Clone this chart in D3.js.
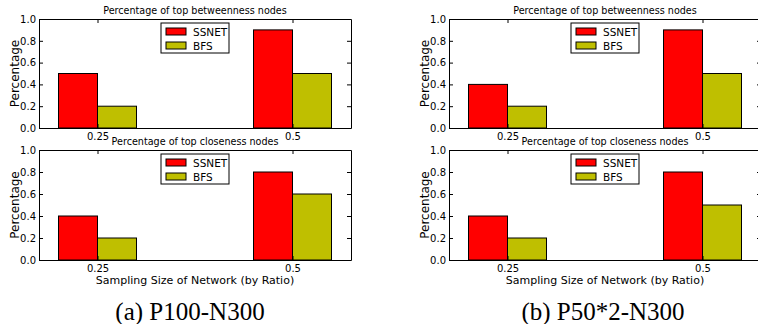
<!DOCTYPE html>
<html>
<head>
<meta charset="utf-8">
<script src="https://cdn.jsdelivr.net/npm/d3@7"></script>
<style>
  html, body { margin: 0; padding: 0; background: #fff; }
  svg { display: block; }
  text { font-family: "DejaVu Sans", sans-serif; fill: #000; }
</style>
</head>
<body>
<svg id="chart" width="758" height="324"></svg>
<script>
// data
const ratios = ["0.25", "0.5"];
const seriesNames = ["SSNET", "BFS"];
const seriesColors = ["#ff0000", "#bfbf00"];
const yTicks = [0, 0.2, 0.4, 0.6, 0.8, 1.0];

const aBetweenSSNET = [0.5, 0.9];
const aBetweenBFS = [0.2, 0.5];
const aCloseSSNET = [0.4, 0.8];
const aCloseBFS = [0.2, 0.6];

const bBetweenSSNET = [0.4, 0.9];
const bBetweenBFS = [0.2, 0.5];
const bCloseSSNET = [0.4, 0.8];
const bCloseBFS = [0.2, 0.5];

const captions = ["(a) P100-N300", "(b) P50*2-N300"];

const svg = d3.select("#chart");

const plotW = 312;
const barW = 0.2;

function drawAxes(left, top, height, title, ssnet, bfs, showXLabel) {
  const g = svg.append("g").attr("transform", "translate(" + left + "," + top + ")");

  const x = d3.scaleLinear().domain([-0.3, 1.3]).range([0, plotW]);
  const y = d3.scaleLinear().domain([0, 1]).range([height, 0]);

  // bars
  const groups = [ssnet, bfs];
  groups.forEach((vals, s) => {
    g.selectAll(".bar" + s)
      .data(vals)
      .enter()
      .append("rect")
      .attr("x", (d, i) => x(i - barW + s * barW))
      .attr("y", d => y(d))
      .attr("width", x(barW) - x(0))
      .attr("height", d => height - y(d))
      .attr("fill", seriesColors[s])
      .attr("stroke", "#000")
      .attr("stroke-width", 1);
  });

  // axes (ticks point inwards)
  const fmt = d3.format(".1f");
  const left_ = g.append("g")
    .call(d3.axisLeft(y).tickValues(yTicks).tickFormat(fmt).tickSizeInner(-4).tickSizeOuter(0).tickPadding(3));
  const right_ = g.append("g").attr("transform", "translate(" + plotW + ",0)")
    .call(d3.axisRight(y).tickValues(yTicks).tickFormat("").tickSizeInner(-4).tickSizeOuter(0));
  const bottom_ = g.append("g").attr("transform", "translate(0," + height + ")")
    .call(d3.axisBottom(x).tickValues([0, 1]).tickFormat(i => ratios[i]).tickSizeInner(-4).tickSizeOuter(0).tickPadding(5));
  const top_ = g.append("g")
    .call(d3.axisTop(x).tickValues([0, 1]).tickFormat("").tickSizeInner(-4).tickSizeOuter(0));

  [left_, right_, bottom_, top_].forEach(a => {
    a.select(".domain").attr("stroke", "#000");
    a.selectAll(".tick line").attr("stroke", "#000");
    a.selectAll("text").style("font-family", "DejaVu Sans").style("font-size", "10px").attr("fill", "#000");
  });

  // title
  g.append("text")
    .attr("x", plotW / 2)
    .attr("y", -5)
    .attr("text-anchor", "middle")
    .style("font-size", "9.6px")
    .text(title);

  // y label
  g.append("text")
    .attr("transform", "translate(-20," + (height / 2) + ") rotate(-90)")
    .attr("text-anchor", "middle")
    .style("font-size", "12px")
    .text("Percentage");

  // legend
  const lg = g.append("g").attr("transform", "translate(122,4)");
  lg.append("rect")
    .attr("width", 68).attr("height", 30)
    .attr("fill", "#fff").attr("stroke", "#000").attr("stroke-width", 1);
  seriesNames.forEach((name, s) => {
    lg.append("rect")
      .attr("x", 5).attr("y", 5 + s * 14)
      .attr("width", 20).attr("height", 7)
      .attr("fill", seriesColors[s]).attr("stroke", "#000");
    lg.append("text")
      .attr("x", 32).attr("y", 12.5 + s * 14)
      .style("font-size", "10.5px")
      .text(name);
  });

  if (showXLabel) {
    g.append("text")
      .attr("x", plotW / 2)
      .attr("y", height + 24)
      .attr("text-anchor", "middle")
      .style("font-size", "11px")
      .text("Sampling Size of Network (by Ratio)");
  }
}

const panelLefts = [39, 449];
const panelData = [
  [aBetweenSSNET, aBetweenBFS, aCloseSSNET, aCloseBFS],
  [bBetweenSSNET, bBetweenBFS, bCloseSSNET, bCloseBFS]
];

panelLefts.forEach((lx, p) => {
  const d = panelData[p];
  drawAxes(lx, 19, 109, "Percentage of top betweenness nodes", d[0], d[1], false);
  drawAxes(lx, 150, 110, "Percentage of top closeness nodes", d[2], d[3], true);
});

// sub-figure captions
svg.selectAll(".caption")
  .data(captions)
  .enter()
  .append("text")
  .attr("class", "caption")
  .attr("x", (d, i) => [190, 603][i])
  .attr("y", 320)
  .attr("text-anchor", "middle")
  .style("font-family", "'Liberation Serif', serif")
  .style("font-size", "25px")
  .text(d => d);
</script>
</body>
</html>
